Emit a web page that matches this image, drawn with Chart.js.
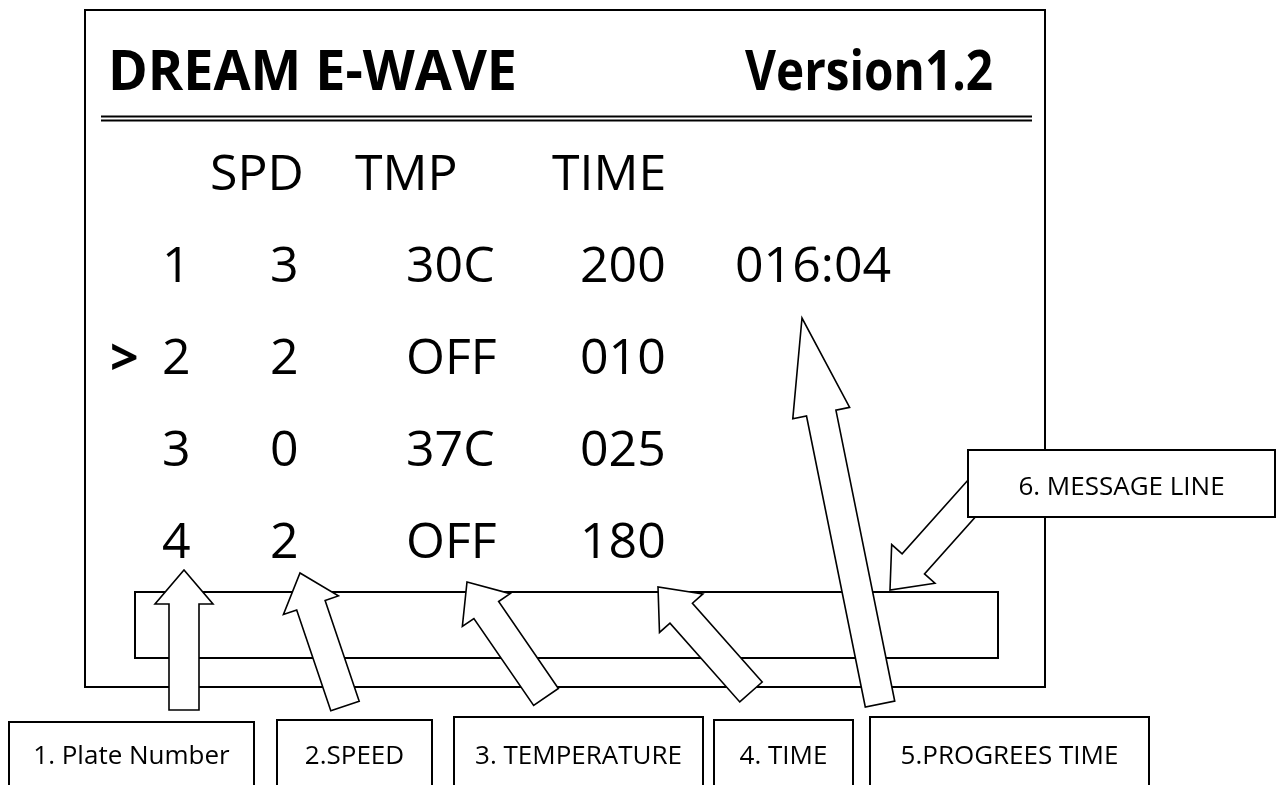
<!DOCTYPE html>
<html>
<head>
<meta charset="utf-8">
<title>DREAM E-WAVE</title>
<script src="https://cdn.jsdelivr.net/npm/chart.js@4.4.1/dist/chart.umd.min.js"></script>
<style>
    html, body { margin: 0; padding: 0; background: #ffffff; }
    #wrap { width: 1288px; height: 785px; }
</style>
</head>
<body>
<div id="wrap"><canvas id="panelChart" width="1288" height="785"></canvas></div>
<script>
// What the display shows
const title = 'DREAM E-WAVE';
const version = 'Version1.2';
const columnHeaders = ['SPD', 'TMP', 'TIME'];
const plates = ['1', '2', '3', '4'];
const speeds = ['3', '2', '0', '2'];
const temperatures = ['30C', 'OFF', '37C', 'OFF'];
const times = ['200', '010', '025', '180'];
const progressTime = '016:04';
const selectedRow = 1; // row with the ">" cursor
const calloutLabels = ['1. Plate Number', '2.SPEED', '3. TEMPERATURE', '4. TIME', '5.PROGREES TIME', '6. MESSAGE LINE'];

// Layout in screen units (both scales run over the page size)
const colX = [162, 270, 406, 580, 735];
const headerX = [210, 355, 552];
const headerBaseline = 190;
const firstRowBaseline = 282;
const rowPitch = 92;
const FONT = '"Open Sans", "Noto Sans", sans-serif';

// callout boxes: [left, right, top, bottom]
const calloutBoxes = [
    [9, 254, 722, 800],
    [277, 432, 720, 800],
    [454, 703, 717, 800],
    [714, 853, 720, 800],
    [870, 1149, 717, 800],
    [968, 1275, 450, 517]
];
// arrows: tail point, tip point, head length
const arrows = [
    { tail: [184, 710], tip: [184, 570], head: 34 },
    { tail: [345, 706], tip: [300, 573], head: 34 },
    { tail: [546, 697], tip: [467, 582], head: 34 },
    { tail: [751, 692], tip: [658, 587], head: 35 },
    { tail: [880, 704], tip: [802, 318], head: 97 },
    { tail: [990, 478], tip: [890, 590], head: 35 }
];

// one point per table cell, the labels are painted at these points
const cellPoints = [];
const columns = [plates, speeds, temperatures, times];
columns.forEach((col, c) => {
    col.forEach((text, r) => {
        cellPoints.push({ x: colX[c], y: firstRowBaseline + r * rowPitch, text: text });
    });
});
cellPoints.push({ x: colX[4], y: firstRowBaseline, text: progressTime });

const headerPoints = columnHeaders.map((text, i) => ({ x: headerX[i], y: headerBaseline, text: text }));

function drawArrow(ctx, px, py, a) {
    const shaftW = 30, headW = 58;
    const dx = a.tip[0] - a.tail[0], dy = a.tip[1] - a.tail[1];
    const len = Math.hypot(dx, dy);
    const ux = dx / len, uy = dy / len;
    const nx = -uy, ny = ux;
    const bx = a.tip[0] - ux * a.head, by = a.tip[1] - uy * a.head;
    const pts = [
        [a.tail[0] + nx * shaftW / 2, a.tail[1] + ny * shaftW / 2],
        [bx + nx * shaftW / 2, by + ny * shaftW / 2],
        [bx + nx * headW / 2, by + ny * headW / 2],
        a.tip,
        [bx - nx * headW / 2, by - ny * headW / 2],
        [bx - nx * shaftW / 2, by - ny * shaftW / 2],
        [a.tail[0] - nx * shaftW / 2, a.tail[1] - ny * shaftW / 2]
    ];
    ctx.beginPath();
    pts.forEach((p, i) => {
        if (i === 0) ctx.moveTo(px(p[0]), py(p[1]));
        else ctx.lineTo(px(p[0]), py(p[1]));
    });
    ctx.closePath();
    ctx.fillStyle = '#ffffff';
    ctx.fill();
    ctx.lineWidth = 1.6;
    ctx.strokeStyle = '#000000';
    ctx.stroke();
}

const panelPlugin = {
    id: 'panelPlugin',
    afterDatasetsDraw(chart) {
        const ctx = chart.ctx;
        const px = v => chart.scales.x.getPixelForValue(v);
        const py = v => chart.scales.y.getPixelForValue(v);
        ctx.save();
        ctx.fillStyle = '#000000';
        ctx.strokeStyle = '#000000';

        // outer frame of the display
        ctx.lineWidth = 2;
        ctx.strokeRect(px(85), py(10), px(1045) - px(85), py(687) - py(10));

        // title line
        ctx.textBaseline = 'alphabetic';
        ctx.textAlign = 'left';
        ctx.font = 'bold 56px ' + FONT;
        ctx.fillText(title, px(108), py(90), 409);
        ctx.fillText(version, px(745), py(90), 248);

        // double rule under the title
        ctx.lineWidth = 1.8;
        [116.5, 120.5].forEach(y => {
            ctx.beginPath();
            ctx.moveTo(px(101), py(y));
            ctx.lineTo(px(1032), py(y));
            ctx.stroke();
        });

        // headers and cells
        ctx.font = '50px ' + FONT;
        chart.getDatasetMeta(1).data.forEach((el, i) => {
            ctx.fillText(headerPoints[i].text, el.x, el.y);
        });
        chart.getDatasetMeta(0).data.forEach((el, i) => {
            ctx.fillText(cellPoints[i].text, el.x, el.y);
        });

        // cursor
        ctx.font = 'bold 50px ' + FONT;
        ctx.fillText('>', px(110), py(firstRowBaseline + selectedRow * rowPitch + 1));

        // message line
        ctx.lineWidth = 2;
        ctx.strokeRect(px(135), py(592), px(998) - px(135), py(658) - py(592));

        arrows.forEach(a => drawArrow(ctx, px, py, a));

        // callout boxes
        ctx.font = '26px ' + FONT;
        ctx.textAlign = 'center';
        calloutBoxes.forEach((b, i) => {
            const x0 = px(b[0]), x1 = px(b[1]), y0 = py(b[2]), y1 = py(b[3]);
            ctx.fillStyle = '#ffffff';
            ctx.fillRect(x0, y0, x1 - x0, y1 - y0);
            ctx.lineWidth = 2;
            ctx.strokeRect(x0, y0, x1 - x0, y1 - y0);
            ctx.fillStyle = '#000000';
            const baseline = i === 5 ? 495 : 764;
            ctx.fillText(calloutLabels[i], (x0 + x1) / 2, py(baseline));
        });
        ctx.restore();
    }
};

const ctx = document.getElementById('panelChart').getContext('2d');
const panelChart = new Chart(ctx, {
    type: 'scatter',
    data: {
        datasets: [{
            label: 'cells',
            data: cellPoints,
            pointRadius: 0
        }, {
            label: 'headers',
            data: headerPoints,
            pointRadius: 0
        }]
    },
    options: {
        responsive: false,
        animation: false,
        devicePixelRatio: 1,
        layout: { padding: 0 },
        scales: {
            x: { type: 'linear', min: 0, max: 1288, display: false },
            y: { type: 'linear', min: 0, max: 785, reverse: true, display: false }
        },
        plugins: {
            legend: { display: false },
            tooltip: { enabled: false }
        }
    },
    plugins: [panelPlugin]
});
</script>
</body>
</html>
